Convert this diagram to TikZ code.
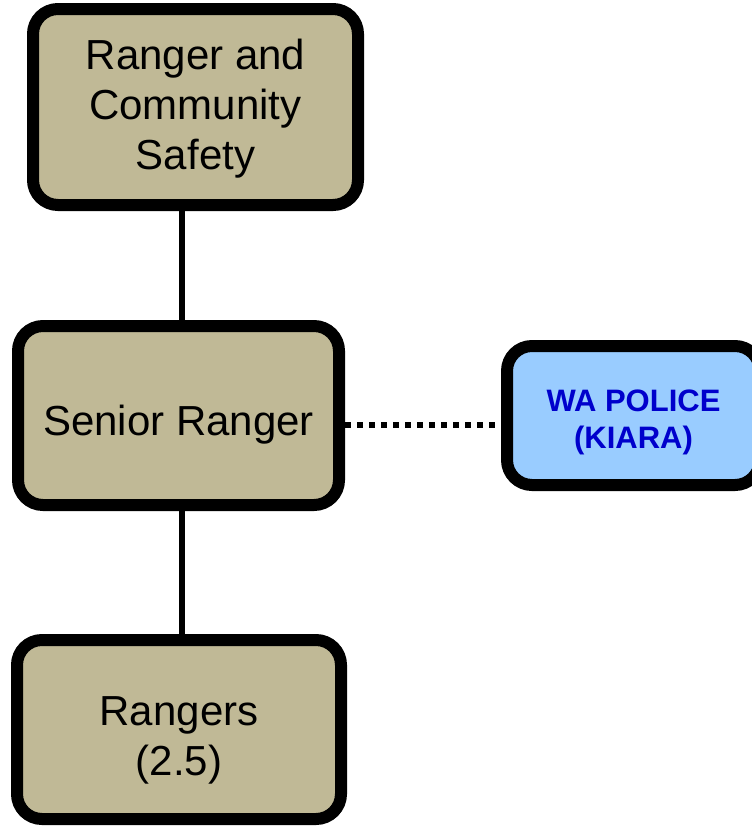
\documentclass[tikz,border=0pt]{standalone}
\usepackage{fontspec}
\setmainfont{Liberation Sans}
\definecolor{rangertan}{RGB}{192,185,150}
\definecolor{policeblue}{RGB}{153,204,255}
\definecolor{policetext}{RGB}{0,0,204}
\begin{document}
\begin{tikzpicture}[x=1pt,y=-1pt,
    unit/.style={draw,line width=12pt,rounded corners=25pt,fill=rangertan,align=center,inner sep=0pt,font=\fontsize{42}{50}\selectfont},
    police/.style={unit,fill=policeblue,text=policetext,font=\fontsize{31}{37}\selectfont\bfseries},
    link/.style={line width=6pt}]
  \useasboundingbox (0,0) rectangle (752,828);
  \node[unit,minimum width=325pt,minimum height=196pt,text depth=5pt] (rcs) at (195.5,107) {Ranger and\\Community\\Safety};
  \node[unit,minimum width=321pt,minimum height=179pt,text height=39pt,text depth=0pt] (senior) at (178.5,415.5) {Senior Ranger};
  \node[unit,minimum width=324pt,minimum height=179pt,text height=91pt,text depth=0pt] (rangers) at (179,729.5) {Rangers\\(2.5)};
  \node[police,minimum width=253pt,minimum height=139pt,text height=66pt,text depth=0pt] (kiara) at (633.5,415.5) {WA POLICE\\(KIARA)};
  \draw[link] ([xshift=3.5pt]senior.north) -- ([xshift=3.5pt]senior.north |- rcs.south);
  \draw[link] ([xshift=3.5pt]senior.south) -- ([xshift=3.5pt]senior.south |- rangers.north);
  \draw[line width=6pt,dash pattern=on 6pt off 6pt] ([yshift=-9.5pt]senior.east) -- ([yshift=-9.5pt]senior.east -| kiara.west);
\end{tikzpicture}
\end{document}
